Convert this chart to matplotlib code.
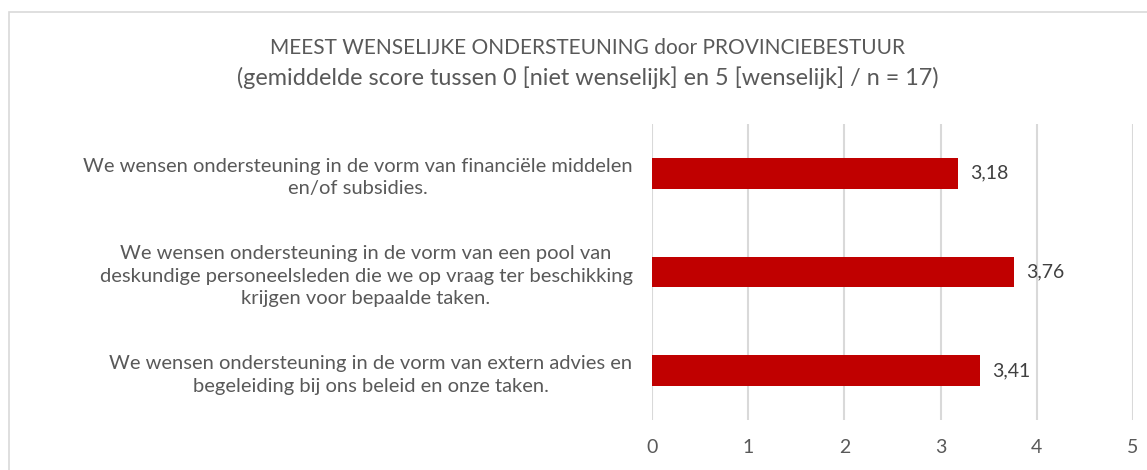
import matplotlib.pyplot as plt
from matplotlib.patches import Rectangle

labels = [
    'We wensen ondersteuning in de vorm van financiële middelen\nen/of subsidies.',
    'We wensen ondersteuning in de vorm van een pool van\ndeskundige personeelsleden die we op vraag ter beschikking\nkrijgen voor bepaalde taken.',
    'We wensen ondersteuning in de vorm van extern advies en\nbegeleiding bij ons beleid en onze taken.',
]
scores = [3.18, 3.76, 3.41]
xticks = [0, 1, 2, 3, 4, 5]

plt.rcParams['font.family'] = ['Lato', 'DejaVu Sans']
text_col = '#595959'

fig = plt.figure(figsize=(11.47, 4.70), dpi=100)
ax = fig.add_axes([0.5684, 0.1064, 0.4194, 0.6298])

# light frame of the chart area (cropped at right and bottom)
fig.patches.append(Rectangle((9 / 1147, -0.1), 1.2, 1 - 12 / 470 + 0.1,
                             transform=fig.transFigure, fill=False,
                             edgecolor='#D9D9D9', linewidth=1.2))

pos = list(range(len(labels)))
ax.barh(pos, scores, height=0.31, color='#C00000', zorder=3)
for p, v in zip(pos, scores):
    ax.text(v + 0.13, p, f'{v:.2f}'.replace('.', ','), va='center', ha='left',
            fontsize=14, color='#404040')

ax.set_xlim(0, 5)
ax.set_ylim(2.5, -0.5)
ax.set_xticks(xticks)
ax.set_yticks(pos)
ax.set_yticklabels(labels, multialignment='center', linespacing=1.4)
ax.tick_params(axis='x', length=0, colors=text_col, labelsize=14, pad=14)
ax.tick_params(axis='y', length=0, colors=text_col, labelsize=14.5, pad=14)
ax.grid(axis='x', color='#D9D9D9', linewidth=1.5, zorder=0)
for s in ax.spines.values():
    s.set_visible(False)

fig.text(588 / 1147, 1 - 48 / 470,
         'MEEST WENSELIJKE ONDERSTEUNING door PROVINCIEBESTUUR',
         ha='center', va='center', fontsize=15, color=text_col)
fig.text(588 / 1147, 1 - 78 / 470,
         '(gemiddelde score tussen 0 [niet wenselijk] en 5 [wenselijk] / n = 17)',
         ha='center', va='center', fontsize=16.8, color=text_col)

fig.savefig('out.png', dpi=100)
